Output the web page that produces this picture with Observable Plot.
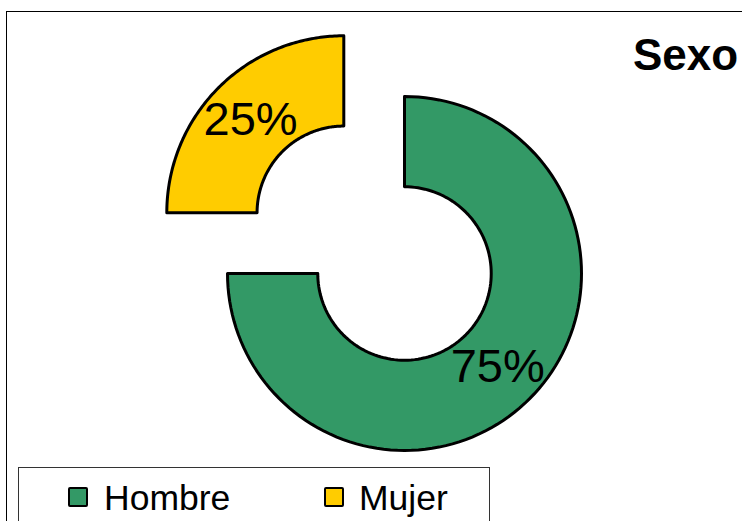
<!DOCTYPE html>
<html>
<head>
<meta charset="utf-8">
<script src="https://cdn.jsdelivr.net/npm/d3@7"></script>
<script src="https://cdn.jsdelivr.net/npm/@observablehq/plot@0.6"></script>
<style>
  html, body { margin: 0; padding: 0; background: #fff; }
  #wrap { position: relative; width: 742px; height: 521px; overflow: hidden; background: #fff;
          font-family: "Liberation Sans", Arial, sans-serif; }
  #frame { position: absolute; left: 6px; top: 11px; width: 800px; height: 600px; border: 1.5px solid #000; box-sizing: border-box; }
  #chart { position: absolute; left: 0; top: 0; }
  #title { position: absolute; left: 633px; top: 33px; font-size: 44px; font-weight: bold; line-height: 1; color: #000; white-space: nowrap; }
  #legend { position: absolute; left: 18px; top: 467px; width: 472px; height: 80px; border: 1px solid #333; box-sizing: border-box; background: #fff; }
  .sw { position: absolute; top: 19px; width: 20px; height: 20px; border: 2px solid #000; box-sizing: border-box; border-radius: 2px; }
  .lt { position: absolute; top: 13px; font-size: 35.5px; line-height: 1; color: #000; white-space: nowrap; }
</style>
</head>
<body>
<div id="wrap">
  <div id="frame"></div>
  <div id="chart"></div>
  <div id="title"></div>
  <div id="legend"></div>
</div>
<script>
// ---- data ----
const categories = ["Hombre", "Mujer"];
const values = [75, 25];
const colors = ["#339966", "#FFCC00"];
const labels = ["75%", "25%"];
const title = "Sexo";

// ---- geometry (unit radius = 1) ----
const W = 742, H = 521;
const unit = 177;            // px per unit radius
const cx = 404, cy = 273;    // donut centre in px
const inner = 0.49;
const explodeCat = "Mujer";
const explodeDist = 0.485;

const pie = d3.pie().sort(null).value(d => d)(values);

const pts = [];
const labelRows = [];
categories.forEach((cat, i) => {
  const a0 = pie[i].startAngle, a1 = pie[i].endAngle;
  const mid = (a0 + a1) / 2;
  const off = cat === explodeCat ? explodeDist : 0;
  const ox = off * Math.sin(mid), oy = off * Math.cos(mid);
  const n = 120;
  const ring = [];
  for (let k = 0; k <= n; k++) {
    const a = a0 + (a1 - a0) * k / n;
    ring.push([ox + Math.sin(a), oy + Math.cos(a)]);
  }
  for (let k = n; k >= 0; k--) {
    const a = a0 + (a1 - a0) * k / n;
    ring.push([ox + inner * Math.sin(a), oy + inner * Math.cos(a)]);
  }
  ring.push(ring[0]);
  ring.forEach(([x, y]) => pts.push({cat, x, y}));
  const rm = (1 + inner) / 2;
  labelRows.push({cat, label: labels[i], x: ox + rm * Math.sin(mid), y: oy + rm * Math.cos(mid)});
});

const plot = Plot.plot({
  width: W, height: H,
  margin: 0,
  x: {domain: [-cx / unit, (W - cx) / unit], range: [0, W], axis: null},
  y: {domain: [-(H - cy) / unit, cy / unit], range: [H, 0], axis: null},
  color: {domain: categories, range: colors},
  style: {background: "transparent", fontFamily: "'Liberation Sans', Arial, sans-serif"},
  marks: [
    Plot.line(pts, {x: "x", y: "y", z: "cat", fill: "cat", stroke: "#000", strokeWidth: 3, strokeLinejoin: "round", curve: "linear"}),
    Plot.text(labelRows, {x: "x", y: "y", text: "label", fontSize: 47, fill: "#000"})
  ]
});
document.getElementById("chart").appendChild(plot);

document.getElementById("title").textContent = title;

const legend = document.getElementById("legend");
const legendX = [[49, 85], [305, 340]];
categories.forEach((cat, i) => {
  const sw = document.createElement("div");
  sw.className = "sw";
  sw.style.left = legendX[i][0] + "px";
  sw.style.background = colors[i];
  legend.appendChild(sw);
  const t = document.createElement("div");
  t.className = "lt";
  t.style.left = legendX[i][1] + "px";
  t.textContent = cat;
  legend.appendChild(t);
});
</script>
</body>
</html>
